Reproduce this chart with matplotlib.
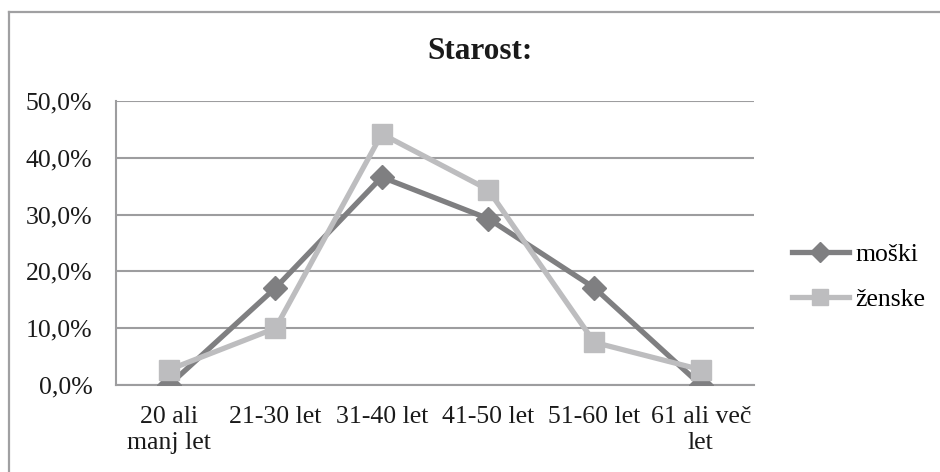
import matplotlib.pyplot as plt
from matplotlib.lines import Line2D
from matplotlib.ticker import FuncFormatter

# podatki
kategorije = ["20 ali\nmanj let", "21-30 let", "31-40 let", "41-50 let", "51-60 let", "61 ali več\nlet"]
moski = [0.0, 17.1, 36.6, 29.3, 17.1, 0.0]
zenske = [2.7, 10.0, 44.2, 34.4, 7.5, 2.7]

plt.rcParams['font.family'] = ['Liberation Serif', 'DejaVu Serif']

fig = plt.figure(figsize=(9.4, 4.72), dpi=100)
ax = fig.add_axes([0.1234, 0.1843, 0.6786, 0.6017])

x = list(range(len(kategorije)))
ax.plot(x, moski, color='#7f7f81', lw=3.8, marker='D', ms=12.5, label='moški', zorder=3)
ax.plot(x, zenske, color='#bdbdbf', lw=3.8, marker='s', ms=14, label='ženske', zorder=3)

ax.set_xlim(-0.5, len(kategorije) - 0.5)
ax.set_ylim(0, 50)
ax.set_yticks([0, 10, 20, 30, 40, 50])
ax.yaxis.set_major_formatter(FuncFormatter(lambda v, p: f"{v:.1f}%".replace('.', ',')))
ax.set_xticks(x)
ax.set_xticklabels(kategorije, fontsize=18.5, color='#1a1a1a', linespacing=1.25)
ax.tick_params(axis='y', labelsize=18.5, length=0, pad=17, labelcolor='#1a1a1a')
ax.tick_params(axis='x', length=0, pad=15)
for s in ['top', 'right']:
    ax.spines[s].set_visible(False)
for s in ['left', 'bottom']:
    ax.spines[s].set_color('#9d9d9f')
    ax.spines[s].set_linewidth(1.5)
ax.grid(axis='y', color='#9d9d9f', lw=1.5)
ax.set_axisbelow(True)

fig.text(0.511, 0.89, "Starost:", ha='center', va='center', fontsize=22.5, fontweight='bold', color='#1a1a1a')

leg = ax.legend(loc='center left', bbox_to_anchor=(1.06, 0.38), frameon=False, fontsize=18.5,
                handlelength=2.2, labelspacing=0.86, handletextpad=0.27, borderaxespad=0,
                borderpad=0)
for h in leg.legend_handles:
    h.set_markersize(h.get_markersize() * 0.85)

# okvir grafikona
fig.add_artist(Line2D([8.5 / 940, 8.5 / 940], [0, 1 - 12 / 472], color='#a0a0a2', lw=1.6))
fig.add_artist(Line2D([8.5 / 940, 1], [1 - 12 / 472, 1 - 12 / 472], color='#a0a0a2', lw=1.6))

fig.savefig("out.png", dpi=100)
